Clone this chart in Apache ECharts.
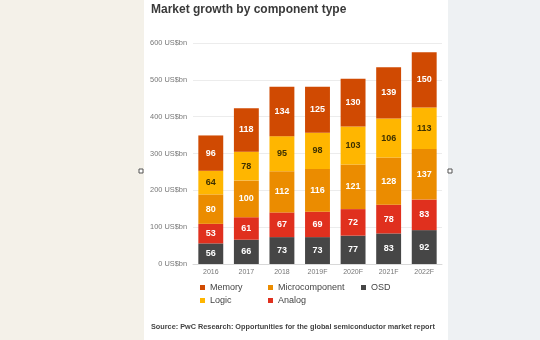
<!DOCTYPE html>
<html>
<head>
<meta charset="utf-8">
<script src="https://cdn.jsdelivr.net/npm/echarts@6/dist/echarts.min.js"></script>
<style>
  html, body { margin: 0; padding: 0; }
  body {
    width: 540px; height: 340px;
    background: linear-gradient(to right, #f4f1e9 0, #f4f1e9 144px, #ffffff 144px, #ffffff 448px, #eef1f3 448px);
  }
  #chart { width: 540px; height: 340px; }
</style>
</head>
<body>
<div id="chart"></div>
<script>
const years = ["2016", "2017", "2018", "2019F", "2020F", "2021F", "2022F"];
const osd = [56, 66, 73, 73, 77, 83, 92];
const analog = [53, 61, 67, 69, 72, 78, 83];
const micro = [80, 100, 112, 116, 121, 128, 137];
const logic = [64, 78, 95, 98, 103, 106, 113];
const memory = [96, 118, 134, 125, 130, 139, 150];

const font = "Liberation Sans, Arial, sans-serif";

function stackSeries(name, data, color, labelColor) {
  return {
    name: name,
    type: "bar",
    stack: "total",
    data: data,
    barCategoryGap: "30%",
    itemStyle: { color: color },
    label: {
      show: true,
      position: "inside",
      color: labelColor,
      fontSize: 9,
      fontWeight: "bold",
      fontFamily: font,
    },
  };
}

function legendAt(name, left, top) {
  return {
    data: [name],
    left: left,
    top: top,
    padding: 0,
    itemWidth: 5,
    itemHeight: 5,
    icon: "rect",
    itemGap: 5,
    textStyle: { fontSize: 9, color: "#444", fontFamily: font },
  };
}

var myChart = echarts.init(document.getElementById("chart"));
const option = {
  animation: false,
  title: {
    text: "Market growth by component type",
    left: 151,
    top: 4,
    padding: 0,
    textStyle: { fontSize: 12, fontWeight: "bold", color: "#3a3a3a", fontFamily: font },
  },
  grid: { left: 193, right: 98, top: 43, bottom: 76 },
  xAxis: {
    type: "category",
    data: years,
    axisTick: { show: false },
    axisLine: { lineStyle: { color: "#d8d8d8" } },
    axisLabel: { fontSize: 7, color: "#777", margin: 5, fontFamily: font },
  },
  yAxis: {
    type: "value",
    min: 0,
    max: 600,
    interval: 100,
    axisLabel: {
      fontSize: 7.4,
      color: "#777",
      margin: 6,
      fontFamily: font,
      formatter: "{value} US$bn",
    },
    splitLine: { lineStyle: { color: "#ececec" } },
  },
  legend: [
    legendAt("Memory", 200, 283),
    legendAt("Microcomponent", 268, 283),
    legendAt("OSD", 361, 283),
    legendAt("Logic", 200, 296),
    legendAt("Analog", 268, 296),
  ],
  graphic: [
    {
      type: "text",
      left: 151,
      top: 323,
      style: {
        text: "Source: PwC Research: Opportunities for the global semiconductor market report",
        fontSize: 7.3,
        fontWeight: "bold",
        fill: "#444",
        fontFamily: font,
      },
    },
    { type: "rect", shape: { x: 139, y: 169, width: 4, height: 4 }, style: { fill: "#fff", stroke: "#555", lineWidth: 1 } },
    { type: "rect", shape: { x: 448, y: 169, width: 4, height: 4 }, style: { fill: "#fff", stroke: "#555", lineWidth: 1 } },
  ],
  series: [
    stackSeries("OSD", osd, "#464646", "#ffffff"),
    stackSeries("Analog", analog, "#e0301e", "#ffffff"),
    stackSeries("Microcomponent", micro, "#eb8c00", "#ffffff"),
    stackSeries("Logic", logic, "#ffb600", "#3d3000"),
    stackSeries("Memory", memory, "#d04a02", "#ffffff"),
  ],
};
myChart.setOption(option);
</script>
</body>
</html>
